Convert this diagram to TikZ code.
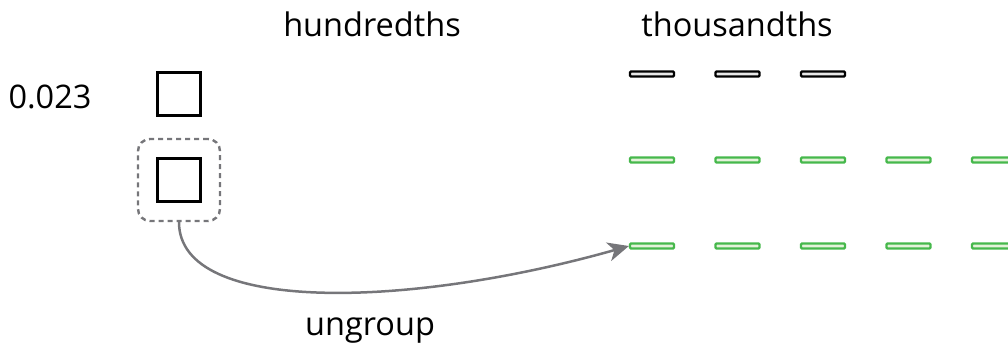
\documentclass[tikz,border=0pt]{standalone}
\usepackage{fontspec}
\setmainfont{Open Sans}
\usetikzlibrary{arrows.meta, positioning}
\definecolor{GroupGray}{RGB}{118, 118, 122}
\definecolor{ThouGreen}{RGB}{70, 184, 76}
\definecolor{ThouFill}{RGB}{228, 242, 218}
\definecolor{BarFill}{RGB}{232, 232, 232}

\tikzset{
  lbl/.style={font=\fontsize{32.5}{38}\selectfont, inner sep=0pt},
  hsq/.style={draw, line width=2.6pt, minimum size=43pt, inner sep=0pt},
  grp/.style={draw=GroupGray, dashed, dash pattern=on 5pt off 4pt, line width=2.4pt,
    rounded corners=12pt, minimum size=82pt, inner sep=0pt},
  tbar/.style={draw, line width=2.2pt, fill=BarFill, rounded corners=1pt,
    minimum width=44pt, minimum height=5pt, inner sep=0pt},
  gbar/.style={tbar, draw=ThouGreen, fill=ThouFill},
  moveit/.style={draw=GroupGray, line width=2.5pt,
    -{Stealth[length=21pt, width=19pt, inset=6pt]}}
}

\begin{document}
\begin{tikzpicture}[x=1pt, y=-1pt]
  \useasboundingbox (0,0) rectangle (1008,350);
  \clip (0,0) rectangle (1008,350);

  % column heads and the number
  \node[lbl] (hhead) at (372,24) {hundredths};
  \node[lbl] (thead) at (737,24) {thousandths};
  \node[lbl] (num) at (50,97) {0.023};

  % hundredths squares, the second one grouped
  \node[hsq] (h1) at (179,94) {};
  \node[hsq] (h2) at (179,180) {};
  \node[grp] (g2) at (179,180) {};

  % thousandths bars
  \foreach \i in {1,...,3}
    \node[tbar] (t1-\i) at ({652+(\i-1)*85.5},74) {};
  \foreach \r/\y in {2/160, 3/246}
    \foreach \i in {1,...,5}
      \node[gbar] (t\r-\i) at ({652+(\i-1)*85.5},\y) {};

  % ungroup arrow
  \draw[moveit] (g2.south) .. controls (179,315) and (410,308) .. (t3-1.west);
  \node[lbl] (ung) at (370,331) {ungroup};
\end{tikzpicture}
\end{document}
